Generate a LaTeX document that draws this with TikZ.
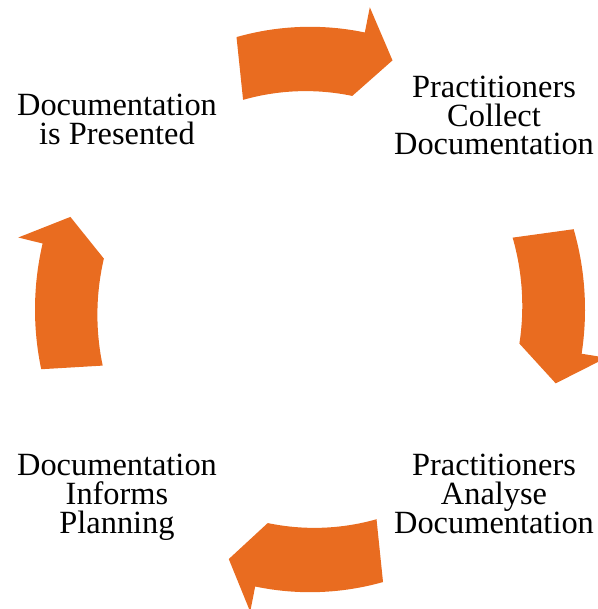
\documentclass[tikz,border=0pt]{standalone}
\usepackage{fontspec}
\setmainfont{Liberation Serif}
\usetikzlibrary{positioning}
\definecolor{cycleorange}{RGB}{233,108,32}

\begin{document}
\begin{tikzpicture}[
  x=0.75pt,y=0.75pt,
  stage/.style={align=center,inner sep=0pt,font=\fontsize{24.3}{21.6}\selectfont},
  cyclearrow/.style={fill=cycleorange,draw=none}
]
\useasboundingbox (0,0) rectangle (597,609);

% Stage labels
\node[stage] (present) at (117,489.5) {Documentation\\is Presented};
\node[stage] (collect) at (494,493.5) {Practitioners\\Collect\\Documentation};
\node[stage] (analyse) at (494,115.2) {Practitioners\\Analyse\\Documentation};
\node[stage] (planning) at (117,111.7) {Documentation\\Informs\\Planning};

% Cycle arrows (clockwise)
\begin{scope}[shift={(310,299.5)},yscale=1.028]
  % present -> collect
  \fill[cyclearrow] (105.5:275) arc[start angle=105.5,end angle=78.5,radius=275]
    -- (78.5:300) -- (71.2:256) -- (78.5:212)
    arc[start angle=78.5,end angle=105.5,radius=234] -- cycle;
  % collect -> analyse
  \fill[cyclearrow] (16.5:275) arc[start angle=16.5,end angle=-9,radius=275]
    -- (-9:300) -- (-16.3:256) -- (-9:212)
    arc[start angle=-9,end angle=16.5,radius=234] -- cycle;
  % analyse -> planning
  \fill[cyclearrow] (-74.6:275) arc[start angle=-74.6,end angle=-101.5,radius=275]
    -- (-101.5:300) -- (-108.5:256) -- (-101.5:212)
    arc[start angle=-101.5,end angle=-74.6,radius=234] -- cycle;
  % planning -> present
  \fill[cyclearrow] (192.2:275) arc[start angle=192.2,end angle=166.5,radius=275]
    -- (166.5:300) -- (159.4:256) -- (166.5:212)
    arc[start angle=166.5,end angle=192.2,radius=234] -- cycle;
\end{scope}

\end{tikzpicture}
\end{document}
